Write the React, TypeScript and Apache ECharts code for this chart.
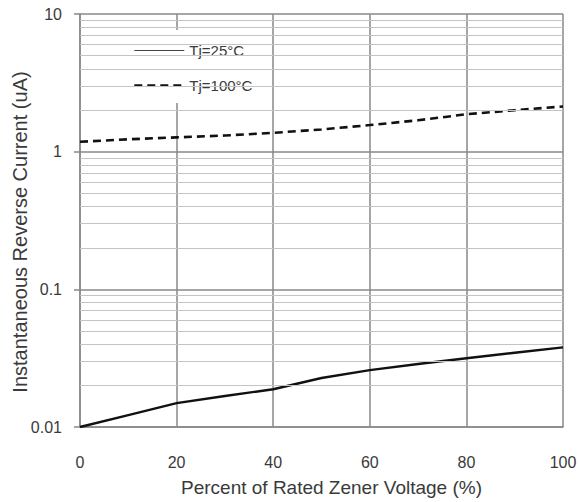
import React, { useEffect, useRef } from "react";
import * as echarts from "echarts";

const xValues = [0, 10, 20, 30, 40, 50, 60, 70, 80, 90, 100];
const current25 = [0.01, 0.0122, 0.0149, 0.0168, 0.0188, 0.0227, 0.0259, 0.0287, 0.0316, 0.0346, 0.0379];
const current100 = [1.18, 1.23, 1.27, 1.31, 1.37, 1.45, 1.56, 1.69, 1.87, 2.0, 2.13];
const minorGridValues = [
  0.02, 0.03, 0.04, 0.05, 0.06, 0.07, 0.08, 0.09,
  0.2, 0.3, 0.4, 0.5, 0.6, 0.7, 0.8, 0.9,
  2, 3, 4, 5, 6, 7, 8, 9,
];
const seriesNames = ["Tj=25°C", "Tj=100°C"];
const xAxisTitle = "Percent of Rated Zener Voltage (%)";
const yAxisTitle = "Instantaneous Reverse Current (uA)";

const FONT = "'Liberation Sans', 'Noto Sans', sans-serif";

export default function App() {
  const ref = useRef<HTMLDivElement>(null);
  useEffect(() => {
    if (!ref.current) return;
    const chart = echarts.init(ref.current, undefined, { renderer: "svg" });
    const pair = (arr: number[]) => xValues.map((x, i) => [x, arr[i]]);
    chart.setOption({
      animation: false,
      backgroundColor: "#fff",
      grid: { left: 80, right: 16, top: 14, bottom: 75, containLabel: false, outerBoundsMode: "none" },
      graphic: [
        {
          type: "text",
          x: 20,
          y: 232,
          rotation: Math.PI / 2,
          silent: true,
          style: {
            text: yAxisTitle,
            fontFamily: FONT,
            fontSize: 20,
            fill: "#3a3a3a",
            align: "center",
            verticalAlign: "middle",
          },
        },
      ],
      legend: {
        data: [
          { name: seriesNames[0], lineStyle: { width: 1.2, color: "#444" } },
          { name: seriesNames[1], lineStyle: { width: 2.6, color: "#111" } },
        ],
        orient: "vertical",
        left: 125,
        top: 30,
        padding: [13, 17, 10, 8],
        itemGap: 20,
        itemWidth: 50,
        itemHeight: 14,
        backgroundColor: "#fff",
        itemStyle: { opacity: 0 },
        textStyle: { fontFamily: FONT, fontSize: 15, color: "#3a3a3a" },
      },
      xAxis: {
        type: "value",
        min: 0,
        max: 100,
        interval: 20,
        name: xAxisTitle,
        nameLocation: "middle",
        nameGap: 51,
        nameTextStyle: { fontFamily: FONT, fontSize: 19, color: "#3a3a3a", padding: [0, 0, 0, 20] },
        axisLine: { show: true, lineStyle: { color: "#888", width: 1.5 } },
        axisTick: { show: false },
        axisLabel: { margin: 27, fontFamily: FONT, fontSize: 16, color: "#3a3a3a" },
        splitLine: { show: true, lineStyle: { color: "#888", width: 1.5 } },
      },
      yAxis: {
        type: "log",
        logBase: 10,
        min: 0.01,
        max: 10,
        axisLine: { show: true, lineStyle: { color: "#888", width: 1.5 } },
        axisTick: { show: true, length: 6, lineStyle: { color: "#888", width: 1.5 } },
        axisLabel: { margin: 18, fontFamily: FONT, fontSize: 16, color: "#3a3a3a" },
        splitLine: { show: true, lineStyle: { color: "#888", width: 1.5 } },
      },
      series: [
        {
          name: "minor-grid",
          type: "line",
          z: 1,
          silent: true,
          symbol: "none",
          data: pair(current25),
          lineStyle: { opacity: 0 },
          markLine: {
            silent: true,
            symbol: "none",
            label: { show: false },
            lineStyle: { color: "#c4c4c4", type: "solid", width: 1.2 },
            data: minorGridValues.map((v) => ({ yAxis: v })),
          },
        },
        {
          name: seriesNames[0],
          type: "line",
          z: 3,
          symbol: "none",
          data: pair(current25),
          itemStyle: { color: "#111" },
          lineStyle: { color: "#111", width: 2.4, type: "solid" },
        },
        {
          name: seriesNames[1],
          type: "line",
          z: 3,
          symbol: "none",
          data: pair(current100),
          itemStyle: { color: "#111" },
          lineStyle: { color: "#111", width: 2.6, type: [8, 5] },
        },
      ],
    });
    return () => chart.dispose();
  }, []);
  return (
    <div
      ref={ref}
      style={{ position: "absolute", left: 0, top: 0, width: 579, height: 502 }}
    />
  );
}
